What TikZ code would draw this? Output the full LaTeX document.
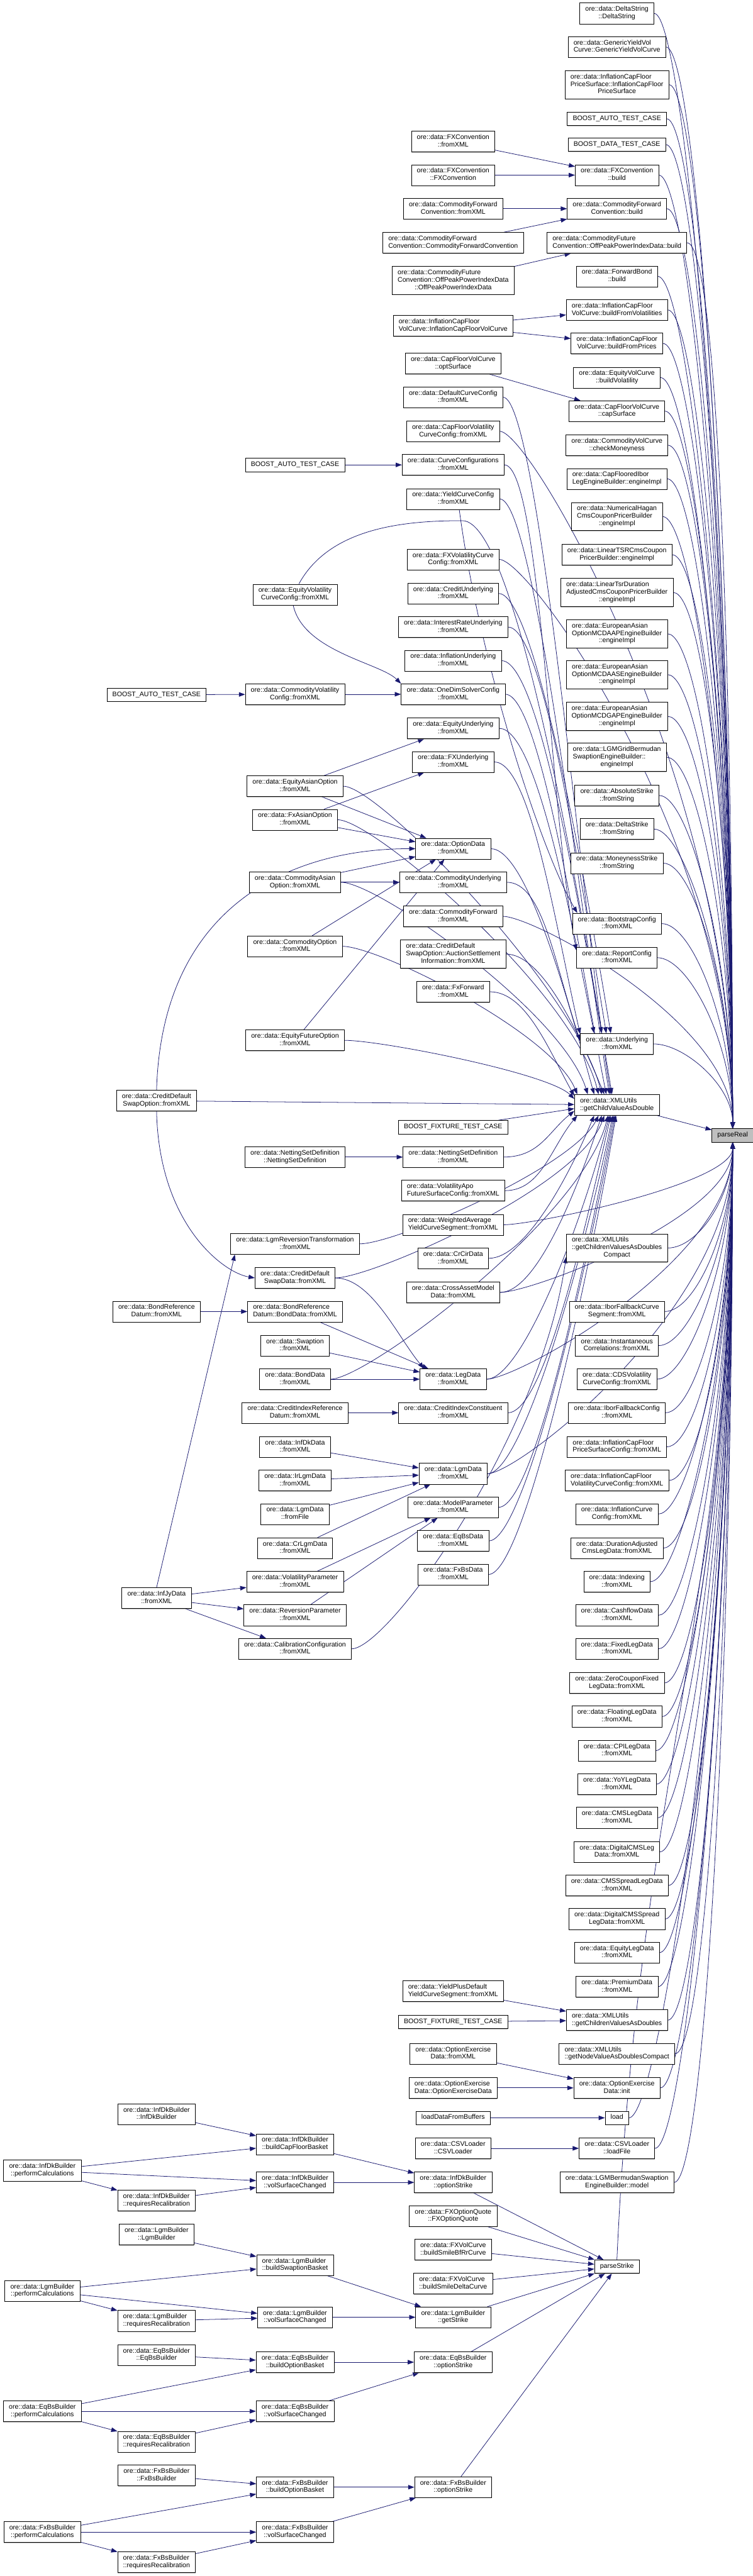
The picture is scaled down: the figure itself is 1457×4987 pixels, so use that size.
\documentclass[tikz,border=0pt]{standalone}
\usepackage{fontspec}
\setmainfont{Liberation Sans}
\usetikzlibrary{arrows.meta, calc, shadows, backgrounds}
\definecolor{MidnightBlue}{RGB}{25,25,112}
% label: all lines but the last flush left, last line centred
\newcommand\twol[2]{\begin{tabular}{@{}l@{}}#1\\\multicolumn{1}{@{}c@{}}{#2}\end{tabular}}

\begin{document}
\begin{tikzpicture}[x=0.75pt, y=-0.75pt, >={Triangle[length=9pt,width=6.5pt]},
    fn/.style={draw, fill=white, line width=0.6pt, inner xsep=8pt, inner ysep=4.4pt,
      font=\fontsize{9.7}{10.7}\selectfont,
      drop shadow={shadow xshift=0pt, shadow yshift=-1pt, fill=black!50}},
    hot/.style={fn, fill=black!25},
    call/.style={->, MidnightBlue, line width=0.7pt},
    downto/.style={to path={.. controls +(70,0) and +(-50,-#1) .. (\tikztotarget)}},
    upto/.style={to path={.. controls +(70,0) and +(-50,#1) .. (\tikztotarget)}}]
  \useasboundingbox (0,0) rectangle (1457,4987);

  % callee
  \node[hot] (pr) at (1418,2198) {\strut parseReal};

  % direct callers
  \node[fn] (dstr) at (1194,26) {\twol{ore::data::DeltaString}{::DeltaString}};
  \node[fn] (gyvc) at (1194,91) {\twol{ore::data::GenericYieldVol}{Curve::GenericYieldVolCurve}};
  \node[fn] (icfps) at (1194,164) {\twol{ore::data::InflationCapFloor\\PriceSurface::InflationCapFloor}{PriceSurface}};
  \node[fn] (bat1) at (1194,230) {\strut BOOST\_AUTO\_TEST\_CASE};
  \node[fn] (bdt) at (1194,280) {\strut BOOST\_DATA\_TEST\_CASE};
  \node[fn] (fxcb) at (1194,339) {\twol{ore::data::FXConvention}{::build}};
  \node[fn] (cfcb) at (1194,404) {\twol{ore::data::CommodityForward}{Convention::build}};
  \node[fn] (opib) at (1194,470) {\twol{ore::data::CommodityFuture}{Convention::OffPeakPowerIndexData::build}};
  \node[fn] (fwdb) at (1194,535) {\twol{ore::data::ForwardBond}{::build}};
  \node[fn] (icvv) at (1194,600) {\twol{ore::data::InflationCapFloor}{VolCurve::buildFromVolatilities}};
  \node[fn] (icvp) at (1194,665) {\twol{ore::data::InflationCapFloor}{VolCurve::buildFromPrices}};
  \node[fn] (eqvb) at (1194,731) {\twol{ore::data::EquityVolCurve}{::buildVolatility}};
  \node[fn] (cfcs) at (1194,796) {\twol{ore::data::CapFloorVolCurve}{::capSurface}};
  \node[fn] (cvcm) at (1194,862) {\twol{ore::data::CommodityVolCurve}{::checkMoneyness}};
  \node[fn] (cfie) at (1194,927) {\twol{ore::data::CapFlooredIbor}{LegEngineBuilder::engineImpl}};
  \node[fn] (nhcp) at (1194,1000) {\twol{ore::data::NumericalHagan\\CmsCouponPricerBuilder}{::engineImpl}};
  \node[fn] (ltsr) at (1194,1074) {\twol{ore::data::LinearTSRCmsCoupon}{PricerBuilder::engineImpl}};
  \node[fn] (ltda) at (1194,1147) {\twol{ore::data::LinearTsrDuration\\AdjustedCmsCouponPricerBuilder}{::engineImpl}};
  \node[fn] (mdaap) at (1194,1227) {\twol{ore::data::EuropeanAsian\\OptionMCDAAPEngineBuilder}{::engineImpl}};
  \node[fn] (mdaas) at (1194,1306) {\twol{ore::data::EuropeanAsian\\OptionMCDAASEngineBuilder}{::engineImpl}};
  \node[fn] (mdgap) at (1194,1387) {\twol{ore::data::EuropeanAsian\\OptionMCDGAPEngineBuilder}{::engineImpl}};
  \node[fn] (lgmgi) at (1194,1466) {\twol{ore::data::LGMGridBermudan\\SwaptionEngineBuilder::}{engineImpl}};
  \node[fn] (absk) at (1194,1540) {\twol{ore::data::AbsoluteStrike}{::fromString}};
  \node[fn] (dlsk) at (1194,1605) {\twol{ore::data::DeltaStrike}{::fromString}};
  \node[fn] (mnsk) at (1194,1671) {\twol{ore::data::MoneynessStrike}{::fromString}};
  \node[fn] (bscf) at (1194,1788) {\twol{ore::data::BootstrapConfig}{::fromXML}};
  \node[fn] (rpcf) at (1194,1854) {\twol{ore::data::ReportConfig}{::fromXML}};
  \node[fn] (undl) at (1194,2021) {\twol{ore::data::Underlying}{::fromXML}};
  \node[fn] (gcvd) at (1194,2139) {\twol{ore::data::XMLUtils}{::getChildValueAsDouble}};
  \node[fn] (gcvc) at (1194,2416) {\twol{ore::data::XMLUtils\\::getChildrenValuesAsDoubles}{Compact}};
  \node[fn] (ibfs) at (1194,2539) {\twol{ore::data::IborFallbackCurve}{Segment::fromXML}};
  \node[fn] (inco) at (1194,2605) {\twol{ore::data::Instantaneous}{Correlations::fromXML}};
  \node[fn] (cdsv) at (1194,2670) {\twol{ore::data::CDSVolatility}{CurveConfig::fromXML}};
  \node[fn] (ibfc) at (1194,2735) {\twol{ore::data::IborFallbackConfig}{::fromXML}};
  \node[fn] (icpc) at (1194,2801) {\twol{ore::data::InflationCapFloor}{PriceSurfaceConfig::fromXML}};
  \node[fn] (icvc) at (1194,2866) {\twol{ore::data::InflationCapFloor}{VolatilityCurveConfig::fromXML}};
  \node[fn] (infc) at (1194,2931) {\twol{ore::data::InflationCurve}{Config::fromXML}};
  \node[fn] (dacl) at (1194,2997) {\twol{ore::data::DurationAdjusted}{CmsLegData::fromXML}};
  \node[fn] (idxg) at (1194,3062) {\twol{ore::data::Indexing}{::fromXML}};
  \node[fn] (cfld) at (1194,3127) {\twol{ore::data::CashflowData}{::fromXML}};
  \node[fn] (fxld) at (1194,3192) {\twol{ore::data::FixedLegData}{::fromXML}};
  \node[fn] (zcfl) at (1194,3258) {\twol{ore::data::ZeroCouponFixed}{LegData::fromXML}};
  \node[fn] (flld) at (1194,3323) {\twol{ore::data::FloatingLegData}{::fromXML}};
  \node[fn] (cpil) at (1194,3389) {\twol{ore::data::CPILegData}{::fromXML}};
  \node[fn] (yoyl) at (1194,3454) {\twol{ore::data::YoYLegData}{::fromXML}};
  \node[fn] (cmsl) at (1194,3519) {\twol{ore::data::CMSLegData}{::fromXML}};
  \node[fn] (dcml) at (1194,3585) {\twol{ore::data::DigitalCMSLeg}{Data::fromXML}};
  \node[fn] (cmsp) at (1194,3650) {\twol{ore::data::CMSSpreadLegData}{::fromXML}};
  \node[fn] (dcsp) at (1194,3715) {\twol{ore::data::DigitalCMSSpread}{LegData::fromXML}};
  \node[fn] (eqld) at (1194,3780) {\twol{ore::data::EquityLegData}{::fromXML}};
  \node[fn] (prmd) at (1194,3846) {\twol{ore::data::PremiumData}{::fromXML}};
  \node[fn] (gcvs) at (1194,3911) {\twol{ore::data::XMLUtils}{::getChildrenValuesAsDoubles}};
  \node[fn] (gnvc) at (1194,3976) {\twol{ore::data::XMLUtils}{::getNodeValueAsDoublesCompact}};
  \node[fn] (oein) at (1194,4042) {\twol{ore::data::OptionExercise}{Data::init}};
  \node[fn] (load) at (1194,4100) {\strut load};
  \node[fn] (csvl) at (1194,4159) {\twol{ore::data::CSVLoader}{::loadFile}};
  \node[fn] (lgbm) at (1194,4225) {\twol{ore::data::LGMBermudanSwaption}{EngineBuilder::model}};
  \node[fn] (pstr) at (1194,4388) {\strut parseStrike};

  % second rank
  \node[fn] (fxcx) at (877,274) {\twol{ore::data::FXConvention}{::fromXML}};
  \node[fn] (fxcc) at (877,339) {\twol{ore::data::FXConvention}{::FXConvention}};
  \node[fn] (cfcx) at (877,404) {\twol{ore::data::CommodityForward}{Convention::fromXML}};
  \node[fn] (cfcc) at (877,470) {\twol{ore::data::CommodityForward}{Convention::CommodityForwardConvention}};
  \node[fn] (opic) at (877,543) {\twol{ore::data::CommodityFuture\\Convention::OffPeakPowerIndexData}{::OffPeakPowerIndexData}};
  \node[fn] (icvx) at (877,631) {\twol{ore::data::InflationCapFloor}{VolCurve::InflationCapFloorVolCurve}};
  \node[fn] (cfos) at (877,704) {\twol{ore::data::CapFloorVolCurve}{::optSurface}};
  \node[fn] (dccx) at (877,769) {\twol{ore::data::DefaultCurveConfig}{::fromXML}};
  \node[fn] (cfvx) at (877,835) {\twol{ore::data::CapFloorVolatility}{CurveConfig::fromXML}};
  \node[fn] (ccfx) at (877,900) {\twol{ore::data::CurveConfigurations}{::fromXML}};
  \node[fn] (ycfx) at (877,966) {\twol{ore::data::YieldCurveConfig}{::fromXML}};
  \node[fn] (fxvx) at (877,1083) {\twol{ore::data::FXVolatilityCurve}{Config::fromXML}};
  \node[fn] (crux) at (877,1149) {\twol{ore::data::CreditUnderlying}{::fromXML}};
  \node[fn] (irux) at (877,1214) {\twol{ore::data::InterestRateUnderlying}{::fromXML}};
  \node[fn] (inux) at (877,1279) {\twol{ore::data::InflationUnderlying}{::fromXML}};
  \node[fn] (odsx) at (877,1344) {\twol{ore::data::OneDimSolverConfig}{::fromXML}};
  \node[fn] (equx) at (877,1410) {\twol{ore::data::EquityUnderlying}{::fromXML}};
  \node[fn] (fxux) at (877,1475) {\twol{ore::data::FXUnderlying}{::fromXML}};
  \node[fn] (optx) at (877,1643) {\twol{ore::data::OptionData}{::fromXML}};
  \node[fn] (coux) at (877,1708) {\twol{ore::data::CommodityUnderlying}{::fromXML}};
  \node[fn] (cofx) at (877,1774) {\twol{ore::data::CommodityForward}{::fromXML}};
  \node[fn] (asix) at (877,1847) {\twol{ore::data::CreditDefault\\SwapOption::AuctionSettlement}{Information::fromXML}};
  \node[fn] (fxfx) at (877,1920) {\twol{ore::data::FxForward}{::fromXML}};
  \node[fn] (bft1) at (877,2182) {\strut BOOST\_FIXTURE\_TEST\_CASE};
  \node[fn] (nsdx) at (877,2240) {\twol{ore::data::NettingSetDefinition}{::fromXML}};
  \node[fn] (vafx) at (877,2305) {\twol{ore::data::VolatilityApo}{FutureSurfaceConfig::fromXML}};
  \node[fn] (wayx) at (877,2371) {\twol{ore::data::WeightedAverage}{YieldCurveSegment::fromXML}};
  \node[fn] (crcx) at (877,2436) {\twol{ore::data::CrCirData}{::fromXML}};
  \node[fn] (camx) at (877,2502) {\twol{ore::data::CrossAssetModel}{Data::fromXML}};
  \node[fn] (legx) at (877,2670) {\twol{ore::data::LegData}{::fromXML}};
  \node[fn] (cicx) at (877,2735) {\twol{ore::data::CreditIndexConstituent}{::fromXML}};
  \node[fn] (lgmx) at (877,2853) {\twol{ore::data::LgmData}{::fromXML}};
  \node[fn] (mpax) at (877,2918) {\twol{ore::data::ModelParameter}{::fromXML}};
  \node[fn] (eqdx) at (877,2983) {\twol{ore::data::EqBsData}{::fromXML}};
  \node[fn] (fxdx) at (877,3048) {\twol{ore::data::FxBsData}{::fromXML}};
  \node[fn] (ypdx) at (877,3855) {\twol{ore::data::YieldPlusDefault}{YieldCurveSegment::fromXML}};
  \node[fn] (bft2) at (877,3914) {\strut BOOST\_FIXTURE\_TEST\_CASE};
  \node[fn] (oefx) at (877,3976) {\twol{ore::data::OptionExercise}{Data::fromXML}};
  \node[fn] (oeoe) at (877,4042) {\twol{ore::data::OptionExercise}{Data::OptionExerciseData}};
  \node[fn] (ldfb) at (877,4100) {\strut loadDataFromBuffers};
  \node[fn] (csvc) at (877,4159) {\twol{ore::data::CSVLoader}{::CSVLoader}};
  \node[fn] (idos) at (877,4225) {\twol{ore::data::InfDkBuilder}{::optionStrike}};
  \node[fn] (fxoq) at (877,4290) {\twol{ore::data::FXOptionQuote}{::FXOptionQuote}};
  \node[fn] (fvbf) at (877,4355) {\twol{ore::data::FXVolCurve}{::buildSmileBfRrCurve}};
  \node[fn] (fvdc) at (877,4421) {\twol{ore::data::FXVolCurve}{::buildSmileDeltaCurve}};
  \node[fn] (lggs) at (877,4486) {\twol{ore::data::LgmBuilder}{::getStrike}};
  \node[fn] (eqos) at (877,4573) {\twol{ore::data::EqBsBuilder}{::optionStrike}};
  \node[fn] (fxos) at (877,4815) {\twol{ore::data::FxBsBuilder}{::optionStrike}};

  % third rank
  \node[fn] (bat2) at (571,900) {\strut BOOST\_AUTO\_TEST\_CASE};
  \node[fn] (evcx) at (571,1151) {\twol{ore::data::EquityVolatility}{CurveConfig::fromXML}};
  \node[fn] (cvcx) at (571,1344) {\twol{ore::data::CommodityVolatility}{Config::fromXML}};
  \node[fn] (eaox) at (571,1522) {\twol{ore::data::EquityAsianOption}{::fromXML}};
  \node[fn] (faox) at (571,1587) {\twol{ore::data::FxAsianOption}{::fromXML}};
  \node[fn] (caox) at (571,1708) {\twol{ore::data::CommodityAsian}{Option::fromXML}};
  \node[fn] (coox) at (571,1832) {\twol{ore::data::CommodityOption}{::fromXML}};
  \node[fn] (efox) at (571,2014) {\twol{ore::data::EquityFutureOption}{::fromXML}};
  \node[fn] (nsdd) at (571,2240) {\twol{ore::data::NettingSetDefinition}{::NettingSetDefinition}};
  \node[fn] (lgrx) at (571,2408) {\twol{ore::data::LgmReversionTransformation}{::fromXML}};
  \node[fn] (cdsx) at (571,2474) {\twol{ore::data::CreditDefault}{SwapData::fromXML}};
  \node[fn] (brbx) at (571,2539) {\twol{ore::data::BondReference}{Datum::BondData::fromXML}};
  \node[fn] (swpx) at (571,2605) {\twol{ore::data::Swaption}{::fromXML}};
  \node[fn] (bndx) at (571,2670) {\twol{ore::data::BondData}{::fromXML}};
  \node[fn] (cirx) at (571,2735) {\twol{ore::data::CreditIndexReference}{Datum::fromXML}};
  \node[fn] (idkx) at (571,2801) {\twol{ore::data::InfDkData}{::fromXML}};
  \node[fn] (irlx) at (571,2866) {\twol{ore::data::IrLgmData}{::fromXML}};
  \node[fn] (lgff) at (571,2931) {\twol{ore::data::LgmData}{::fromFile}};
  \node[fn] (crlx) at (571,2997) {\twol{ore::data::CrLgmData}{::fromXML}};
  \node[fn] (vpax) at (571,3062) {\twol{ore::data::VolatilityParameter}{::fromXML}};
  \node[fn] (rpax) at (571,3127) {\twol{ore::data::ReversionParameter}{::fromXML}};
  \node[fn] (ccnx) at (571,3192) {\twol{ore::data::CalibrationConfiguration}{::fromXML}};
  \node[fn] (idcb) at (571,4151) {\twol{ore::data::InfDkBuilder}{::buildCapFloorBasket}};
  \node[fn] (idvs) at (571,4225) {\twol{ore::data::InfDkBuilder}{::volSurfaceChanged}};
  \node[fn] (lgsb) at (571,4385) {\twol{ore::data::LgmBuilder}{::buildSwaptionBasket}};
  \node[fn] (lgvs) at (571,4486) {\twol{ore::data::LgmBuilder}{::volSurfaceChanged}};
  \node[fn] (eqob) at (571,4573) {\twol{ore::data::EqBsBuilder}{::buildOptionBasket}};
  \node[fn] (eqvs) at (571,4668) {\twol{ore::data::EqBsBuilder}{::volSurfaceChanged}};
  \node[fn] (fxob) at (571,4815) {\twol{ore::data::FxBsBuilder}{::buildOptionBasket}};
  \node[fn] (fxvs) at (571,4902) {\twol{ore::data::FxBsBuilder}{::volSurfaceChanged}};

  % fourth rank
  \node[fn] (bat3) at (303,1345) {\strut BOOST\_AUTO\_TEST\_CASE};
  \node[fn] (cdox) at (303,2131) {\twol{ore::data::CreditDefault}{SwapOption::fromXML}};
  \node[fn] (brdx) at (303,2539) {\twol{ore::data::BondReference}{Datum::fromXML}};
  \node[fn] (ijyx) at (303,3094) {\twol{ore::data::InfJyData}{::fromXML}};
  \node[fn] (idkb) at (303,4093) {\twol{ore::data::InfDkBuilder}{::InfDkBuilder}};
  \node[fn] (idrr) at (303,4260) {\twol{ore::data::InfDkBuilder}{::requiresRecalibration}};
  \node[fn] (lgbb) at (303,4326) {\twol{ore::data::LgmBuilder}{::LgmBuilder}};
  \node[fn] (lgrr) at (303,4493) {\twol{ore::data::LgmBuilder}{::requiresRecalibration}};
  \node[fn] (eqbb) at (303,4559) {\twol{ore::data::EqBsBuilder}{::EqBsBuilder}};
  \node[fn] (eqrr) at (303,4727) {\twol{ore::data::EqBsBuilder}{::requiresRecalibration}};
  \node[fn] (fxbb) at (303,4792) {\twol{ore::data::FxBsBuilder}{::FxBsBuilder}};
  \node[fn] (fxrr) at (303,4960) {\twol{ore::data::FxBsBuilder}{::requiresRecalibration}};

  % fifth rank
  \node[fn] (idpc) at (82,4202) {\twol{ore::data::InfDkBuilder}{::performCalculations}};
  \node[fn] (lgpc) at (82,4435) {\twol{ore::data::LgmBuilder}{::performCalculations}};
  \node[fn] (eqpc) at (82,4668) {\twol{ore::data::EqBsBuilder}{::performCalculations}};
  \node[fn] (fxpc) at (82,4902) {\twol{ore::data::FxBsBuilder}{::performCalculations}};

  \begin{scope}[on background layer]
    % into parseReal
    \foreach \s in {dstr,gyvc,icfps,bat1,bdt,fxcb,cfcb,opib,fwdb,icvv,icvp,eqvb,cfcs,cvcm,cfie,nhcp,
        ltsr,ltda,mdaap,mdaas,mdgap,lgmgi,absk,dlsk,mnsk,bscf,rpcf,undl,cfvx,fxvx,cofx}
      \draw[call] (\s.east) .. controls +(60,0) and ($(pr.north)!0.5!(pr.north|-\s.east)$) .. (pr.north);
    \foreach \s in {gcvc,ibfs,inco,cdsv,ibfc,icpc,icvc,infc,dacl,idxg,cfld,fxld,zcfl,flld,cpil,yoyl,
        cmsl,dcml,cmsp,dcsp,eqld,prmd,gcvs,gnvc,oein,load,csvl,lgbm,wayx,legx,lgmx,camx}
      \draw[call] (\s.east) .. controls +(60,0) and ($(pr.south)!0.5!(pr.south|-\s.east)$) .. (pr.south);
    \draw[call] (gcvd) -- (pr);
    \draw[call] (pstr.north) .. controls +(40,-900) and +(-5,900) .. (pr.south);

    % into getChildValueAsDouble
    \foreach \s/\a/\d in {dccx/120/300, ycfx/125/300, odsx/135/250, eaox/145/200, faox/150/200,
        optx/155/180, caox/160/160, coox/165/120, asix/140/120, fxfx/168/90, efox/172/50}
      \draw[call] (\s.east) to[downto=\d] (gcvd.\a);
    \foreach \s/\a/\d in {nsdx/-172/40, vafx/-165/60, crcx/-155/120, camx/-145/150, lgrx/-150/100,
        cdsx/-140/140, bndx/-130/200, legx/-125/200, cicx/-120/220, lgmx/-112/250,
        mpax/-106/260, eqdx/-100/280, fxdx/-95/300}
      \draw[call] (\s.east) to[upto=\d] (gcvd.\a);
    \draw[call] (bft1) -- (gcvd.-175);
    \draw[call] (evcx.70) .. controls +(60,-110) and +(-110,0) .. (895,1008)
      .. controls +(110,0) and +(-50,-300) .. (gcvd.115);

    % into Underlying::fromXML
    \foreach \s/\a/\d in {crux/120/300, irux/135/300, inux/145/280, equx/155/250, fxux/165/220, coux/175/150}
      \draw[call] (\s.east) to[downto=\d] (undl.\a);

    \draw[call] (ycfx.-60) .. controls +(40,300) and +(-70,-120) .. (bscf.165);
    \draw[call] (ccfx.east) to[downto=250] (rpcf.170);
    \draw[call] (ccnx.east) to[upto=350] (gcvc.-170);
    \draw[call] (evcx.-100) .. controls +(20,90) and +(-40,-40) .. (odsx.north west);
    \draw[call] (cdox.north) .. controls +(10,-350) and +(-250,0) .. (optx.west);
    \draw[call] (cdox.south) .. controls +(5,220) and +(-60,-10) .. (cdsx.west);
    \draw[call] (cdsx.east) to[downto=60] (legx.160);
    \draw[call] (ijyx.north) -- (lgrx.-170);

    % short calls
    \foreach \a/\b in {fxcx/fxcb, fxcc/fxcb, cfcx/cfcb, cfcc/cfcb, opic/opib, icvx/icvv, icvx/icvp,
        cfos/cfcs, bat2/ccfx, bat3/cvcx, cvcx/odsx, eaox/equx, eaox/optx, faox/fxux, faox/optx,
        caox/optx, caox/coux, coox/optx, efox/optx, nsdd/nsdx, brdx/brbx, brbx/legx, swpx/legx,
        bndx/legx, cirx/cicx, idkx/lgmx, irlx/lgmx, lgff/lgmx, crlx/lgmx, ijyx/vpax, ijyx/rpax,
        ijyx/ccnx, vpax/mpax, rpax/mpax, ypdx/gcvs, bft2/gcvs, oefx/oein, oeoe/oein, ldfb/load,
        csvc/csvl, cdox/gcvd,
        idos/pstr, fxoq/pstr, fvbf/pstr, fvdc/pstr, lggs/pstr, eqos/pstr, fxos/pstr,
        idkb/idcb, idpc/idcb, idpc/idvs, idpc/idrr, idrr/idvs, idcb/idos, idvs/idos,
        lgbb/lgsb, lgpc/lgsb, lgpc/lgvs, lgpc/lgrr, lgrr/lgvs, lgsb/lggs, lgvs/lggs,
        eqbb/eqob, eqpc/eqob, eqpc/eqvs, eqpc/eqrr, eqrr/eqvs, eqob/eqos, eqvs/eqos,
        fxbb/fxob, fxpc/fxob, fxpc/fxvs, fxpc/fxrr, fxrr/fxvs, fxob/fxos, fxvs/fxos}
      \draw[call] (\a) -- (\b);
  \end{scope}
\end{tikzpicture}
\end{document}
